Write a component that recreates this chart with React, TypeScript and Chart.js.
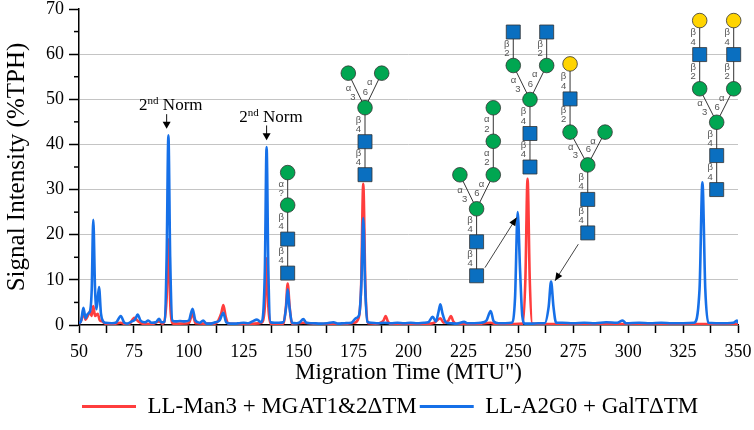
import { useEffect, useRef } from "react";
import { Chart, registerables } from "chart.js";

Chart.register(...registerables);

// LL-Man3 + MGAT1&2ΔTM (red trace): migration time (MTU") / signal (%TPH)
const manTime = [
  50, 51, 52, 53, 54, 55, 55.7, 56.5, 57.3, 58.5, 59.5, 60.5, 62, 65, 69, 71, 73, 75.2, 77, 79, 83, 86.5, 88,
  89.9, 90.7, 91.6, 92.5, 94, 100, 101.7, 103, 107, 112, 114.7, 115.7, 116.8, 118, 125, 130, 133, 134.6, 135.4,
  136.2, 137.2, 143, 144.2, 145, 145.9, 147, 152, 160, 170, 175, 177, 178.4, 179.4, 180.4, 181.5, 185, 188.6,
  189.6, 190.6, 192, 200, 210, 212, 214.5, 216, 218.2, 219.3, 220.4, 222, 230, 237.4, 240, 248, 252, 253.2,
  254.2, 255.2, 256.3, 260, 270, 280, 290, 300, 310, 320, 330, 340, 350,
];
const manSignal = [
  0.2, 1, 2.6, 1.2, 2, 3, 2, 4.2, 2, 2.5, 1, 0.8, 0.3, 0.2, 0.5, 0.2, 0.3, 1.6, 0.8, 0.3, 0.2, 0.8, 0.3,
  6, 19, 4, 0.4, 0.3, 0.4, 2.5, 0.4, 0.3, 0.3, 2.5, 4.4, 1.8, 0.3, 0.2, 0.3, 0.5, 4, 14.8,
  4, 0.3, 0.3, 4, 9.2, 4, 0.3, 0.5, 0.2, 0.2, 0.5, 1.2, 8, 31.3, 8, 0.4, 0.3, 1,
  2, 0.8, 0.2, 0.2, 0.3, 0.6, 1.5, 0.5, 1, 2, 0.8, 0.2, 0.2, 0.5, 0.2, 0.2, 0.3, 10,
  32.4, 10, 0.3, 0.2, 0.2, 0.2, 0.2, 0.2, 0.2, 0.2, 0.2, 0.2, 0.2,
];

// LL-A2G0 + GalTΔTM (blue trace)
const galTime = [
  50, 51, 52, 53, 54, 55, 55.8, 56.5, 57.3, 58, 59.1, 60, 61, 62, 65, 67, 69, 70.5, 72, 74, 75.5, 76.7, 78, 80,
  81.5, 83, 85, 86.5, 87.5, 89, 89.9, 90.7, 91.5, 92.5, 94, 96, 98, 100, 101.7, 103, 105, 106.5, 108, 110, 112,
  114, 115.7, 117, 119, 121, 123, 125, 127, 129, 131, 133, 134.6, 135.4, 136.2, 137.2, 139, 141, 143, 144.3,
  145, 145.8, 147, 149, 150.5, 152.1, 153.5, 156, 160, 163, 165.8, 168, 171, 174, 176, 177.5, 178.6, 179.4,
  180.3, 181.3, 183, 186, 189, 192, 195, 198, 201, 204, 207, 209, 211, 212.5, 213.7, 214.5, 215.5, 217, 219,
  222, 225.3, 227, 230, 233, 235.5, 237.4, 238.8, 241, 244, 247, 248.5, 249.7, 250.8, 251.8, 253, 256, 259,
  262, 263.8, 264.9, 266, 267.2, 270, 275, 280, 285, 290, 295, 297.5, 299, 305, 310, 315, 320, 325, 330, 332.5,
  333.8, 335.1, 336.5, 340, 345, 348, 349.5, 350,
];
const galSignal = [
  0.3, 1, 3.8, 1.5, 2.5, 3, 8, 23.3, 8, 3.5, 8.4, 2.5, 0.8, 0.5, 0.4, 0.6, 2, 0.6, 0.3, 0.8, 1.2, 2.3, 1, 0.6,
  1, 0.5, 0.6, 1.4, 0.6, 0.8, 15, 42, 15, 1, 0.8, 0.9, 0.8, 1, 3.6, 1, 0.5, 1, 0.3, 0.3, 0.6,
  1, 2.7, 0.6, 0.3, 0.3, 0.4, 0.5, 0.4, 0.8, 1.2, 0.6, 12, 39.4, 12, 0.6, 0.5, 0.5, 0.6, 4,
  7.9, 4, 0.5, 0.4, 0.6, 1.3, 0.5, 0.4, 0.3, 0.4, 0.6, 0.3, 0.4, 0.5, 1.5, 2.2, 10, 23.7,
  8, 0.7, 0.5, 0.4, 0.5, 0.4, 0.5, 0.4, 0.5, 0.4, 0.5, 0.6, 1.8, 0.8, 3, 4.6, 2.5, 0.6, 0.4,
  0.3, 0.7, 0.4, 0.4, 0.5, 1, 3.1, 0.8, 0.4, 0.4, 0.5, 6, 25, 12, 2, 0.3, 0.3, 0.4,
  0.4, 4, 9.6, 4, 0.5, 0.5, 0.4, 0.5, 0.4, 0.6, 0.5, 1, 0.4, 0.5, 0.4, 0.5, 0.4, 0.4, 0.5, 8,
  31.6, 8, 0.5, 0.4, 0.4, 0.5, 1, 0.4,
];

const seriesNames = ["LL-Man3 + MGAT1&2ΔTM", "LL-A2G0 + GalTΔTM"];
const seriesColors = ["#ff3d3d", "#1670e8"];

const SERIF = '"Liberation Serif", "Times New Roman", serif';

// "2nd Norm" markers: x, text baseline, arrow top, arrow tip (data units)
const normMarks = [
  { x: 89.9, textX: 91.8, textY: 47.6, from: 46.7, to: 43.5 },
  { x: 135.4, textX: 137.4, textY: 45.0, from: 44.2, to: 40.9 },
];

// glycan cartoons (SNFG): [kind, dx, dy, parent, anomer, position], offsets in px from the root residue
type Node = [string, number, number, number, string, string];
const glycans: { at: [number, number]; nodes: Node[] }[] = [
  {
    at: [145.0, 11.5],
    nodes: [
      ["S", 0, 0, -1, "", ""],
      ["S", 0, -34, 0, "β", "4"],
      ["M", 0, -68, 1, "β", "4"],
      ["M", 0, -100.5, 2, "α", "?"],
    ],
  },
  {
    at: [180.2, 33.3],
    nodes: [
      ["S", 0, 0, -1, "", ""],
      ["S", 0, -33, 0, "β", "4"],
      ["M", 0, -67, 1, "β", "4"],
      ["M", -16.7, -101.5, 2, "α", "3"],
      ["M", 16.7, -101.5, 2, "α", "6"],
    ],
  },
  {
    at: [231.0, 10.9],
    nodes: [
      ["S", 0, 0, -1, "", ""],
      ["S", 0, -34, 0, "β", "4"],
      ["M", 0, -67, 1, "β", "4"],
      ["M", -16.7, -101, 2, "α", "3"],
      ["M", 16.7, -101, 2, "α", "6"],
      ["M", 16.7, -134.5, 4, "α", "2"],
      ["M", 16.7, -168, 5, "α", "2"],
    ],
  },
  {
    at: [255.3, 35],
    nodes: [
      ["S", 0, 0, -1, "", ""],
      ["S", 0, -33.5, 0, "β", "4"],
      ["M", 0, -67.5, 1, "β", "4"],
      ["M", -16.7, -101.5, 2, "α", "3"],
      ["M", 16.7, -101.5, 2, "α", "6"],
      ["S", -16.7, -135, 3, "β", "2"],
      ["S", 16.7, -135, 4, "β", "2"],
    ],
  },
  {
    at: [281.6, 20.4],
    nodes: [
      ["S", 0, 0, -1, "", ""],
      ["S", 0, -33.5, 0, "β", "4"],
      ["M", 0, -68, 1, "β", "4"],
      ["M", -17.7, -100.8, 2, "α", "3"],
      ["M", 17.3, -100.8, 2, "α", "6"],
      ["S", -17.7, -134, 3, "β", "2"],
      ["G", -17.7, -169, 5, "β", "4"],
    ],
  },
  {
    at: [340.3, 30],
    nodes: [
      ["S", 0, 0, -1, "", ""],
      ["S", 0, -34, 0, "β", "4"],
      ["M", 0, -67.3, 1, "β", "4"],
      ["M", -17, -100.8, 2, "α", "3"],
      ["M", 17, -100.8, 2, "α", "6"],
      ["S", -17, -135, 3, "β", "2"],
      ["S", 17, -135, 4, "β", "2"],
      ["G", -17, -169, 5, "β", "4"],
      ["G", 17, -169, 6, "β", "4"],
    ],
  },
];

// leader arrows from glycan to peak: [fromX, fromY, toX, toY]
const pointers = [
  [234.8, 12.7, 249.2, 23.8],
  [277.3, 17.9, 266.7, 9.8],
];

const residueFill: Record<string, string> = { S: "#0a6fc0", M: "#00a651", G: "#ffd400" };

function arrowHead(ctx: CanvasRenderingContext2D, x0: number, y0: number, x1: number, y1: number, len: number, half: number) {
  const a = Math.atan2(y1 - y0, x1 - x0);
  ctx.beginPath();
  ctx.moveTo(x1, y1);
  ctx.lineTo(x1 - len * Math.cos(a) + half * Math.sin(a), y1 - len * Math.sin(a) - half * Math.cos(a));
  ctx.lineTo(x1 - len * Math.cos(a) - half * Math.sin(a), y1 - len * Math.sin(a) + half * Math.cos(a));
  ctx.closePath();
  ctx.fill();
}

const annotations = {
  id: "annotations",
  afterDatasetsDraw(chart: Chart) {
    const { ctx } = chart;
    const xs = chart.scales.x;
    const ys = chart.scales.y;
    ctx.save();

    // minor ticks on the y axis
    ctx.strokeStyle = "#000";
    ctx.lineWidth = 1.5;
    for (let v = 5; v < 70; v += 10) {
      const py = ys.getPixelForValue(v);
      ctx.beginPath();
      ctx.moveTo(chart.chartArea.left - 5, py);
      ctx.lineTo(chart.chartArea.left, py);
      ctx.stroke();
    }

    // 2nd Norm markers
    for (const m of normMarks) {
      const cx = xs.getPixelForValue(m.textX);
      const by = ys.getPixelForValue(m.textY);
      ctx.fillStyle = "#000";
      ctx.textBaseline = "alphabetic";
      ctx.textAlign = "left";
      const big = `17px ${SERIF}`;
      const small = `11px ${SERIF}`;
      ctx.font = big;
      const w1 = ctx.measureText("2").width;
      const w3 = ctx.measureText(" Norm").width;
      ctx.font = small;
      const w2 = ctx.measureText("nd").width;
      let sx = cx - (w1 + w2 + w3) / 2;
      ctx.font = big;
      ctx.fillText("2", sx, by);
      sx += w1;
      ctx.font = small;
      ctx.fillText("nd", sx, by - 6);
      sx += w2;
      ctx.font = big;
      ctx.fillText(" Norm", sx, by);

      const ax = xs.getPixelForValue(m.x);
      const y0 = ys.getPixelForValue(m.from);
      const y1 = ys.getPixelForValue(m.to);
      ctx.strokeStyle = "#111";
      ctx.lineWidth = 1;
      ctx.beginPath();
      ctx.moveTo(ax, y0);
      ctx.lineTo(ax, y1 - 5);
      ctx.stroke();
      ctx.fillStyle = "#000";
      arrowHead(ctx, ax, y0, ax, y1, 7, 4);
    }

    // leader arrows
    for (const [fx, fy, tx, ty] of pointers) {
      const x0 = xs.getPixelForValue(fx);
      const y0 = ys.getPixelForValue(fy);
      const x1 = xs.getPixelForValue(tx);
      const y1 = ys.getPixelForValue(ty);
      ctx.strokeStyle = "#444";
      ctx.lineWidth = 1;
      ctx.beginPath();
      ctx.moveTo(x0, y0);
      ctx.lineTo(x1, y1);
      ctx.stroke();
      ctx.fillStyle = "#000";
      arrowHead(ctx, x0, y0, x1, y1, 8, 3.5);
    }

    // glycans
    for (const g of glycans) {
      const ox = xs.getPixelForValue(g.at[0]);
      const oy = ys.getPixelForValue(g.at[1]);
      const pts = g.nodes.map((n) => [ox + n[1], oy + n[2]]);
      ctx.strokeStyle = "#333";
      ctx.lineWidth = 1;
      ctx.font = `9.5px "Liberation Sans", Arial, sans-serif`;
      ctx.textAlign = "center";
      ctx.textBaseline = "middle";
      g.nodes.forEach((n, i) => {
        if (n[3] < 0) return;
        const [px, py] = pts[n[3]];
        const [cx, cy] = pts[i];
        ctx.beginPath();
        ctx.moveTo(px, py);
        ctx.lineTo(cx, cy);
        ctx.stroke();
        const len = Math.hypot(cx - px, cy - py);
        const nx = (cy - py) / len;
        const ny = -(cx - px) / len;
        const off = 6.5;
        ctx.fillStyle = "#555";
        const ta = 0.64;
        const tp = 0.37;
        ctx.fillText(n[4], px + (cx - px) * ta + nx * off, py + (cy - py) * ta + ny * off);
        ctx.fillText(n[5], px + (cx - px) * tp + nx * off, py + (cy - py) * tp + ny * off);
      });
      g.nodes.forEach((n, i) => {
        const [cx, cy] = pts[i];
        ctx.fillStyle = residueFill[n[0]];
        ctx.strokeStyle = "#333";
        ctx.lineWidth = 0.8;
        ctx.beginPath();
        if (n[0] === "S") {
          ctx.rect(cx - 7, cy - 7, 14, 14);
        } else {
          ctx.arc(cx, cy, 7.3, 0, Math.PI * 2);
        }
        ctx.fill();
        ctx.stroke();
      });
    }
    ctx.restore();
  },
};

export default function App() {
  const canvasRef = useRef<HTMLCanvasElement>(null);

  useEffect(() => {
    if (!canvasRef.current) return;
    const chart = new Chart(canvasRef.current, {
      type: "line",
      data: {
        datasets: [
          {
            label: seriesNames[0],
            data: manTime.map((t, i) => ({ x: t, y: manSignal[i] })),
            borderColor: seriesColors[0],
            backgroundColor: seriesColors[0],
            borderWidth: 2.6,
            pointRadius: 0,
            cubicInterpolationMode: "monotone",
            order: 2,
          },
          {
            label: seriesNames[1],
            data: galTime.map((t, i) => ({ x: t, y: galSignal[i] })),
            borderColor: seriesColors[1],
            backgroundColor: seriesColors[1],
            borderWidth: 2.6,
            pointRadius: 0,
            cubicInterpolationMode: "monotone",
            order: 1,
          },
        ],
      },
      options: {
        responsive: true,
        maintainAspectRatio: false,
        animation: false,
        layout: { padding: { left: 0, right: 16, top: 9, bottom: 2 } },
        plugins: {
          tooltip: { enabled: false },
          legend: {
            position: "bottom",
            fullSize: false,
            align: "start",
            labels: {
              boxWidth: 54,
              boxHeight: 3,
              padding: 3,
              color: "#000",
              font: { family: SERIF, size: 23 },
              generateLabels: (c) =>
                c.data.datasets.map((d, i) => ({
                  text: d.label as string,
                  fillStyle: d.borderColor as string,
                  strokeStyle: d.borderColor as string,
                  lineWidth: 0,
                  hidden: false,
                  datasetIndex: i,
                })),
            },
          },
        },
        scales: {
          x: {
            type: "linear",
            min: 50,
            max: 350,
            ticks: {
              stepSize: 12.5,
              autoSkip: false,
              maxRotation: 0,
              padding: 10,
              color: "#000",
              font: { family: SERIF, size: 18, lineHeight: 1 },
              callback: (v) => (Number(v) % 25 === 0 ? String(v) : ""),
            },
            grid: { drawOnChartArea: false, tickLength: 8, tickColor: "#000", tickWidth: 1.5 },
            border: { color: "#000", width: 1.5 },
            title: {
              display: true,
              text: 'Migration Time (MTU")',
              color: "#000",
              font: { family: SERIF, size: 23 },
              padding: { top: 0, bottom: 5 },
            },
            afterFit: (s) => {
              s.height = 67;
              s.paddingLeft = 0;
              s.paddingRight = 0;
            },
          },
          y: {
            min: 0,
            max: 70,
            ticks: {
              stepSize: 10,
              padding: 5,
              color: "#000",
              font: { family: SERIF, size: 18, lineHeight: 1 },
            },
            grid: {
              color: (c) => (c.tick.value === 0 || c.tick.value === 70 ? "rgba(0,0,0,0)" : "#c4c4c4"),
              lineWidth: 1,
              tickLength: 10,
              tickColor: "#000",
              tickWidth: 1.5,
            },
            border: { color: "#000", width: 1.5 },
            title: {
              display: true,
              text: "Signal Intensity (%TPH)",
              color: "#000",
              font: { family: SERIF, size: 25 },
              padding: { top: 2, bottom: 0 },
            },
            afterFit: (s) => {
              s.width = 79;
              s.paddingTop = 0;
              s.paddingBottom = 0;
            },
          },
        },
      },
      plugins: [annotations],
    });
    return () => chart.destroy();
  }, []);

  return (
    <div style={{ position: "fixed", left: 0, top: 0, width: 754, height: 430, background: "#fff" }}>
      <canvas ref={canvasRef} />
    </div>
  );
}
